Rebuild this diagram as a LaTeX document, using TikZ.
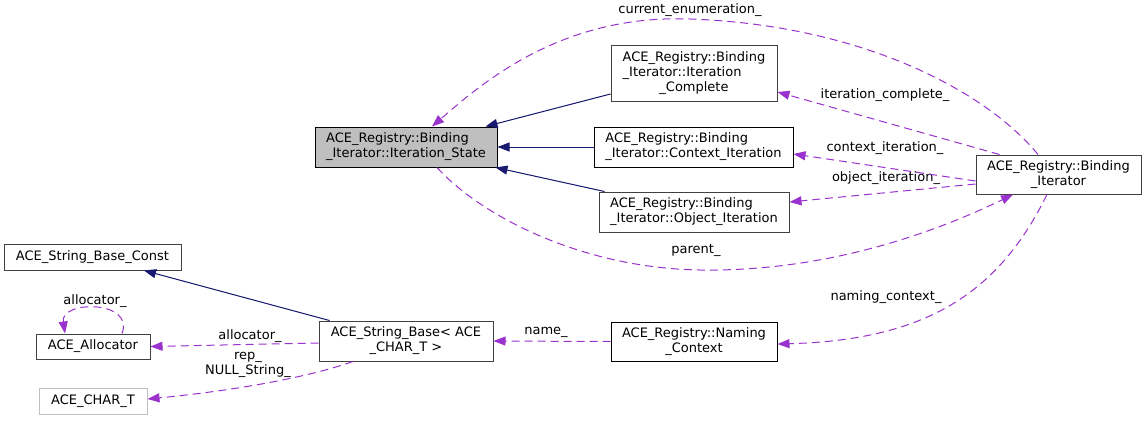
\documentclass[tikz,border=0pt]{standalone}
\usepackage{fontspec}
\setmainfont{DejaVu Sans}
\usetikzlibrary{arrows.meta}
\definecolor{inh}{HTML}{191970}
\definecolor{usg}{HTML}{9A32CD}
\definecolor{bd}{HTML}{404040}
\definecolor{lbd}{HTML}{BFBFBF}
\definecolor{grayfill}{HTML}{BFBFBF}
\newcommand{\ctrline}[1]{\multicolumn{1}{@{}c@{}}{#1}}
\begin{document}
\begin{tikzpicture}[x=1pt,y=-1pt,
  font=\fontsize{13}{15}\selectfont,
  cls/.style={draw=bd, line width=1pt, inner sep=0pt, align=center, rectangle},
  inherit/.style={draw=inh, line width=1pt, -{Triangle[length=12pt,width=9pt]}, fill=inh},
  usage/.style={draw=usg, line width=1pt, dash pattern=on 8pt off 5pt, -{Triangle[length=12pt,width=9pt,fill=usg]}},
  lbl/.style={inner sep=0pt, text=black}]
\fill[white] (0,0) rectangle (1147,420);
\useasboundingbox (0,0) rectangle (1147,420);

% nodes
\node[cls, draw=black, fill=grayfill, minimum width=182pt, minimum height=40pt] (is) at (406,147)
  {\begin{tabular}{@{}l@{}}ACE\_Registry::Binding\\\_Iterator::Iteration\_State\end{tabular}};
\node[cls, minimum width=166pt, minimum height=55pt] (ic) at (694,73.5)
  {\begin{tabular}{@{}l@{}}ACE\_Registry::Binding\\\_Iterator::Iteration\\\ctrline{\_Complete}\end{tabular}};
\node[cls, draw=black, minimum width=199pt, minimum height=40pt] (ci) at (693.5,147)
  {\begin{tabular}{@{}l@{}}ACE\_Registry::Binding\\\_Iterator::Context\_Iteration\end{tabular}};
\node[cls, minimum width=190pt, minimum height=40pt] (oi) at (694,212)
  {\begin{tabular}{@{}l@{}}ACE\_Registry::Binding\\\_Iterator::Object\_Iteration\end{tabular}};
\node[cls, minimum width=165pt, minimum height=39pt] (bi) at (1058.5,174.5)
  {\begin{tabular}{@{}l@{}}ACE\_Registry::Binding\\\ctrline{\_Iterator}\end{tabular}};
\node[cls, minimum width=177pt, minimum height=26pt] (sbc) at (92.5,257) {ACE\_String\_Base\_Const};
\node[cls, minimum width=114pt, minimum height=25pt] (al) at (93,346.5) {ACE\_Allocator};
\node[cls, draw=lbd, minimum width=108pt, minimum height=26pt] (ct) at (93,401) {ACE\_CHAR\_T};
\node[cls, minimum width=174pt, minimum height=40pt] (sb) at (406,341)
  {\begin{tabular}{@{}l@{}}ACE\_String\_Base< ACE\\\ctrline{\_CHAR\_T >}\end{tabular}};
\node[cls, draw=black, minimum width=166pt, minimum height=39pt] (nc) at (694,341.5)
  {\begin{tabular}{@{}l@{}}ACE\_Registry::Naming\\\ctrline{\_Context}\end{tabular}};

% labels
\node[lbl] (l1) at (690,10) {current\_enumeration\_};
\node[lbl] (l2) at (885,95) {iteration\_complete\_};
\node[lbl] (l3) at (885,148) {context\_iteration\_};
\node[lbl] (l4) at (886,178) {object\_iteration\_};
\node[lbl] (l5) at (696,250) {parent\_};
\node[lbl] (l6) at (886,297) {naming\_context\_};
\node[lbl] (l7) at (546,332) {name\_};
\node[lbl] (l8) at (250,336) {allocator\_};
\node[lbl] (l9) at (95,301) {allocator\_};
\node[lbl, align=center] (l10) at (248,365) {rep\_\\NULL\_String\_};

% inheritance
\draw[inherit] ([yshift=-20.5pt]ic.west) -- ([xshift=-12pt]is.north east);
\draw[inherit] (ci.west) -- (is.east);
\draw[inherit] ([xshift=6pt]oi.north west) -- ([xshift=-2pt]is.south east);
\draw[inherit] ([xshift=11pt]sb.north west) -- ([xshift=51.5pt]sbc.south);

% usage
\coordinate (top) at (690,19);
\coordinate (bot) at (700,270);
\draw[usage] ([xshift=-20.5pt]bi.north) .. controls (985,90) and (860,25) .. (top)
  .. controls (560,14) and (480,85) .. ([xshift=26pt]is.north);
\draw[usage] ([xshift=24pt]bi.north west) -- ([yshift=-18.5pt]ic.east);
\draw[usage] ([yshift=-6.5pt]bi.west) -- ([yshift=-7pt]ci.east);
\draw[usage] ([yshift=-9.5pt]bi.west) -- ([yshift=10pt]oi.east);
\draw[usage] ([xshift=31pt]is.south) .. controls (480,215) and (580,268) .. (bot)
  .. controls (830,272) and (940,230) .. ([xshift=-45.5pt]bi.south);
\draw[usage] ([xshift=-11.5pt]bi.south) .. controls (1000,290) and (930,340) .. ([yshift=-2.5pt]nc.east);
\draw[usage] (nc.west) -- (sb.east);
\draw[usage] ([yshift=-2pt]sb.west) -- (al.east);
\draw[usage] ([xshift=29pt]al.north) .. controls (135,300) and (60,300) .. ([xshift=-28pt]al.north);
\draw[usage] ([xshift=-53pt]sb.south) .. controls (300,380) and (220,392) .. ([yshift=2pt]ct.east);
\end{tikzpicture}
\end{document}
